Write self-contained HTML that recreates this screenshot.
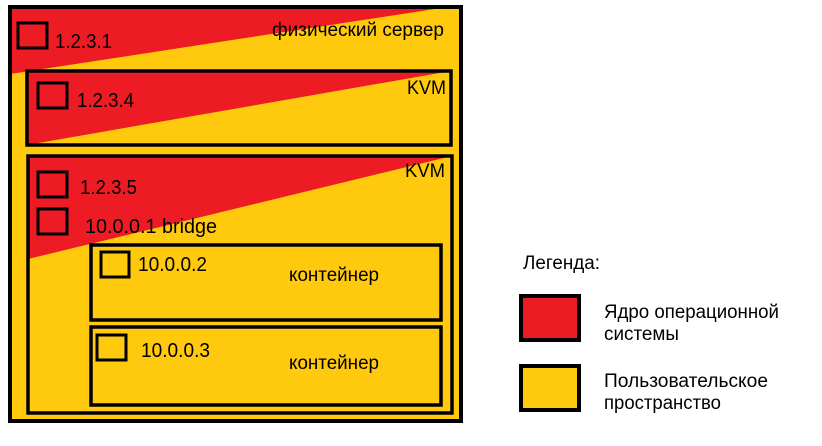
<!DOCTYPE html>
<html><head><meta charset="utf-8"><style>
html,body{margin:0;padding:0;background:#fff;}
svg{display:block;}
text{font-family:"Liberation Sans",Arial,sans-serif;fill:#000;}
</style></head><body>
<svg width="822" height="446" viewBox="0 0 822 446">
<rect x="0" y="0" width="822" height="446" fill="#fff"/>
<g>
<rect x="10" y="7" width="451" height="414" fill="#FFC90E"/>
<polygon points="10,7 461,7 461,5 10,74" fill="#ED1C24"/>
<rect x="10" y="7" width="451" height="414" fill="none" stroke="#000" stroke-width="4"/>
<rect x="18" y="23" width="29" height="25" fill="none" stroke="#000" stroke-width="3"/>
<text x="55" y="48" font-size="20" textLength="57" lengthAdjust="spacingAndGlyphs">1.2.3.1</text>
<text x="272" y="36" font-size="19" textLength="172" lengthAdjust="spacingAndGlyphs">физический сервер</text>
</g>
<g>
<rect x="27" y="71" width="424" height="74" fill="#FFC90E"/>
<polygon points="27,71 451,71 27,145" fill="#ED1C24"/>
<rect x="27" y="71" width="424" height="74" fill="none" stroke="#000" stroke-width="3.5"/>
<rect x="38" y="83" width="29" height="25" fill="none" stroke="#000" stroke-width="3"/>
<text x="77" y="107" font-size="20" textLength="57" lengthAdjust="spacingAndGlyphs">1.2.3.4</text>
<text x="407" y="94" font-size="19" textLength="39" lengthAdjust="spacingAndGlyphs">KVM</text>
</g>
<g>
<rect x="28" y="156" width="424" height="257" fill="#FFC90E"/>
<polygon points="28,156 452,156 28,259" fill="#ED1C24"/>
<rect x="28" y="156" width="424" height="257" fill="none" stroke="#000" stroke-width="3.5"/>
<rect x="38" y="172" width="29" height="25" fill="none" stroke="#000" stroke-width="3"/>
<text x="80" y="194" font-size="20" textLength="57" lengthAdjust="spacingAndGlyphs">1.2.3.5</text>
<rect x="38" y="209" width="29" height="25" fill="none" stroke="#000" stroke-width="3"/>
<text x="85" y="233" font-size="20" textLength="132" lengthAdjust="spacingAndGlyphs">10.0.0.1  bridge</text>
<text x="405" y="177" font-size="19" textLength="40" lengthAdjust="spacingAndGlyphs">KVM</text>
</g>
<g>
<rect x="91" y="245" width="350" height="75" fill="#FFC90E" stroke="#000" stroke-width="3.5"/>
<rect x="101" y="252" width="28" height="25" fill="none" stroke="#000" stroke-width="3"/>
<text x="138" y="271" font-size="20" textLength="69" lengthAdjust="spacingAndGlyphs">10.0.0.2</text>
<text x="289" y="281" font-size="19" textLength="90" lengthAdjust="spacingAndGlyphs">контейнер</text>
</g>
<g>
<rect x="91" y="327" width="350" height="78" fill="#FFC90E" stroke="#000" stroke-width="3.5"/>
<rect x="97" y="335" width="29" height="25" fill="none" stroke="#000" stroke-width="3"/>
<text x="141" y="357" font-size="20" textLength="69" lengthAdjust="spacingAndGlyphs">10.0.0.3</text>
<text x="289" y="369" font-size="19" textLength="90" lengthAdjust="spacingAndGlyphs">контейнер</text>
</g>
<g>
<text x="523" y="269" font-size="19" textLength="77" lengthAdjust="spacingAndGlyphs">Легенда:</text>
<rect x="521" y="296" width="58" height="44" fill="#ED1C24" stroke="#000" stroke-width="4"/>
<text x="604" y="318" font-size="19" textLength="175" lengthAdjust="spacingAndGlyphs">Ядро операционной</text>
<text x="604" y="340" font-size="19" textLength="75" lengthAdjust="spacingAndGlyphs">системы</text>
<rect x="521" y="366" width="58" height="44" fill="#FFC90E" stroke="#000" stroke-width="4"/>
<text x="604" y="387" font-size="19" textLength="164" lengthAdjust="spacingAndGlyphs">Пользовательское</text>
<text x="604" y="409" font-size="19" textLength="117" lengthAdjust="spacingAndGlyphs">пространство</text>
</g>
</svg>
</body></html>
